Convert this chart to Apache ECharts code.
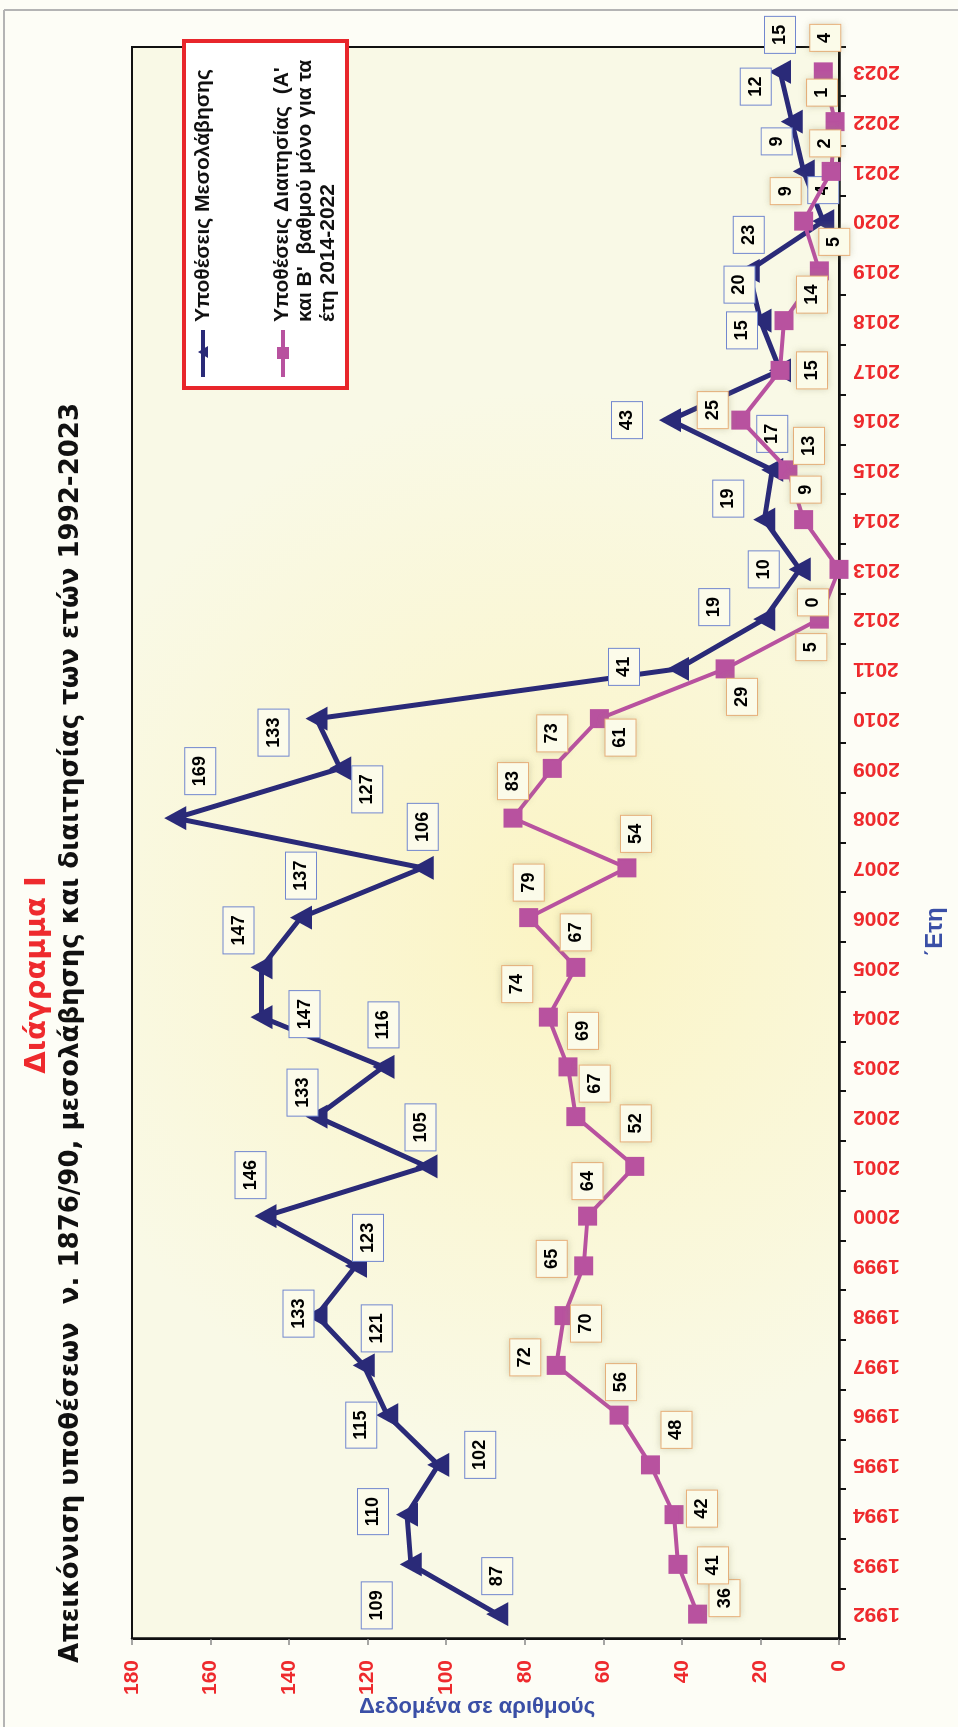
<!DOCTYPE html>
<html lang="el">
<head>
<meta charset="utf-8">
<title>Διάγραμμα Ι</title>
<script src="https://cdn.jsdelivr.net/npm/echarts@6/dist/echarts.min.js"></script>
<style>
  html, body { margin: 0; padding: 0; width: 958px; height: 1727px; overflow: hidden; background: #fdfdf6; }
  /* the chart is laid out landscape and turned a quarter turn to fit the portrait page */
  #chart { position: absolute; left: 0; top: 0; width: 1727px; height: 958px;
           transform-origin: 0 0; transform: translate(0, 1727px) rotate(-90deg); }
</style>
</head>
<body>
<div id="chart"></div>
<script>
// Years on the category axis
const years = ['1992', '1993', '1994', '1995', '1996', '1997', '1998', '1999', '2000', '2001',
  '2002', '2003', '2004', '2005', '2006', '2007', '2008', '2009', '2010', '2011',
  '2012', '2013', '2014', '2015', '2016', '2017', '2018', '2019', '2020', '2021',
  '2022', '2023'];

// Mediation cases per year
const mediationCases = [87, 109, 110, 102, 115, 121, 133, 123, 146, 105,
  133, 116, 147, 147, 137, 106, 169, 127, 133, 41,
  19, 10, 19, 17, 43, 15, 20, 23, 4, 9,
  12, 15];

// Arbitration cases per year
const arbitrationCases = [36, 41, 42, 48, 56, 72, 70, 65, 64, 52,
  67, 69, 74, 67, 79, 54, 83, 73, 61, 29,
  5, 0, 9, 13, 25, 15, 14, 5, 9, 2,
  1, 4];

// Value-axis range and step
const valueMin = 0;
const valueMax = 180;
const valueStep = 20;

// Where each value box sits relative to its marker (pixels, landscape layout)
const mediationLabelOffsets = [
  [38, 0], [-41, -34], [3, -34], [10, 42], [-10, -26], [37, 13], [2, -18], [28, 12],
  [41, -15], [39, -6], [24, -14], [42, 0], [3, 43], [37, -23], [42, 0], [41, 0],
  [47, 25], [-21, 27], [-14, -43], [2, -54], [12, -50], [0, -36], [21, -36], [36, 0],
  [0, -43], [40, -38], [36, -21], [36, 0], [31, 0], [30, -27], [35, -36], [37, 0]
];
const arbitrationLabelOffsets = [
  [16, 27], [-1, 35], [6, 28], [35, 26], [33, 2], [8, -31], [-8, 22], [7, -32],
  [35, 0], [43, 1], [33, 19], [36, 15], [33, -31], [35, 0], [35, 0], [34, 9],
  [37, 0], [35, 0], [-19, 21], [-28, 17], [-28, -8], [-33, -26], [30, 2], [24, 21],
  [10, -28], [0, 32], [26, 28], [29, 15], [30, -18], [28, -6], [29, -13], [34, 2]
];

const FONT = "'Liberation Sans', Arial, sans-serif";
const HEAD_FONT = "'DejaVu Sans', Verdana, sans-serif";
const NAVY = '#2a2a78';
const PURPLE = '#b8529f';
const RED = '#ee2a2d';
const BLUE = '#3a4fa6';

const chart = echarts.init(document.getElementById('chart'), null, { renderer: 'canvas' });

const labelBase = {
  show: true,
  position: 'inside',
  color: '#000',
  fontFamily: FONT,
  fontWeight: 'bold',
  fontSize: 18,
  lineHeight: 18,
  padding: [6, 8]
};

function legendTriangle(cx, cy, w, h, color) {
  return {
    type: 'polygon',
    shape: { points: [[cx, cy - h / 2], [cx + w / 2, cy + h / 2], [cx - w / 2, cy + h / 2]] },
    style: { fill: color }
  };
}

const option = {
  animation: false,
  backgroundColor: '#fdfdf6',
  grid: {
    left: 88, right: 47, top: 132, bottom: 119,
    show: true,
    borderColor: '#111',
    borderWidth: 2,
    backgroundColor: {
      type: 'radial', x: 0.45, y: 0.6, r: 0.75,
      colorStops: [
        { offset: 0, color: '#fbf4c4' },
        { offset: 1, color: '#f9f9e6' }
      ]
    }
  },
  xAxis: {
    type: 'category',
    data: years,
    boundaryGap: true,
    axisLine: { show: true, lineStyle: { color: '#111', width: 2.5 } },
    axisTick: { show: true, length: 7, lineStyle: { color: '#111', width: 2 } },
    axisLabel: {
      interval: 0, rotate: 90, margin: 14,
      color: RED, fontFamily: FONT, fontWeight: 'bold', fontSize: 21
    },
    splitLine: { show: false }
  },
  yAxis: {
    type: 'value',
    min: valueMin, max: valueMax, interval: valueStep,
    axisLine: { show: true, lineStyle: { color: '#111', width: 2.5 } },
    axisTick: { show: true, length: 6, lineStyle: { color: '#888', width: 1.5 } },
    axisLabel: { margin: 21, color: RED, fontFamily: FONT, fontWeight: 'bold', fontSize: 21 },
    splitLine: { show: false }
  },
  series: [
    {
      name: 'Υποθέσεις Μεσολάβησης',
      type: 'line',
      data: mediationCases.map((v, i) => ({ value: v, label: { offset: mediationLabelOffsets[i] } })),
      symbol: 'triangle',
      symbolSize: [24, 22],
      showAllSymbol: true,
      lineStyle: { color: NAVY, width: 5 },
      itemStyle: { color: NAVY },
      label: Object.assign({}, labelBase, {
        backgroundColor: '#fcfbea', borderColor: '#7287cf', borderWidth: 1
      }),
      z: 2
    },
    {
      name: 'Υποθέσεις Διαιτησίας',
      type: 'line',
      data: arbitrationCases.map((v, i) => ({ value: v, label: { offset: arbitrationLabelOffsets[i] } })),
      symbol: 'rect',
      symbolSize: 19,
      showAllSymbol: true,
      lineStyle: { color: PURPLE, width: 4 },
      itemStyle: { color: PURPLE },
      label: Object.assign({}, labelBase, {
        backgroundColor: '#fbfbe9', borderColor: '#f0b27c', borderWidth: 1,
        shadowColor: 'rgba(150, 150, 110, 0.35)', shadowBlur: 7
      }),
      z: 3
    }
  ],
  graphic: [
    // outer frame (left and top edges of the page)
    { type: 'line', shape: { x1: 0, y1: 4, x2: 1717, y2: 4 }, style: { stroke: '#b4b4b4', lineWidth: 2 }, z: 10 },
    { type: 'line', shape: { x1: 1717, y1: 4, x2: 1717, y2: 958 }, style: { stroke: '#b4b4b4', lineWidth: 2 }, z: 10 },
    // headings
    {
      type: 'text', x: 752, y: 37, z: 10,
      style: { text: 'Διάγραμμα Ι', font: 'bold 29px ' + HEAD_FONT, fill: RED, align: 'center', verticalAlign: 'middle' }
    },
    {
      type: 'text', x: 1324, y: 71, z: 10,
      style: {
        text: 'Απεικόνιση υποθέσεων  ν. 1876/90, μεσολάβησης και διαιτησίας των ετών 1992-2023',
        font: 'bold 26px ' + HEAD_FONT, fill: '#111', align: 'right', verticalAlign: 'middle'
      }
    },
    // axis names
    {
      type: 'text', x: 20, y: 477, rotation: -Math.PI / 2, z: 10,
      style: { text: 'Δεδομένα σε αριθμούς', font: 'bold 22px ' + FONT, fill: BLUE, align: 'center', verticalAlign: 'middle' }
    },
    {
      type: 'text', x: 795, y: 935, z: 10,
      style: { text: '΄Ετη', font: 'bold 24px ' + FONT, fill: BLUE, align: 'center', verticalAlign: 'middle' }
    },
    // legend
    {
      type: 'group', z: 20,
      children: [
        { type: 'rect', shape: { x: 1339, y: 184, width: 347, height: 163 },
          style: { fill: '#ffffff', stroke: '#e8262b', lineWidth: 4 } },
        { type: 'line', shape: { x1: 1350, y1: 203, x2: 1397, y2: 203 }, style: { stroke: NAVY, lineWidth: 4 } },
        legendTriangle(1375, 203, 12, 10, NAVY),
        { type: 'text', x: 1405, y: 203,
          style: { text: 'Υποθέσεις Μεσολάβησης', font: 'bold 21px ' + FONT, fill: '#111', align: 'left', verticalAlign: 'middle' } },
        { type: 'line', shape: { x1: 1350, y1: 283, x2: 1397, y2: 283 }, style: { stroke: PURPLE, lineWidth: 4 } },
        { type: 'rect', shape: { x: 1368, y: 277, width: 12, height: 12 }, style: { fill: PURPLE } },
        { type: 'text', x: 1405, y: 271,
          style: {
            text: "Υποθέσεις Διαιτησίας  (Α'\nκαι Β'  βαθμού μόνο για τα\nέτη 2014-2022",
            font: 'bold 21px ' + FONT, lineHeight: 23, fill: '#111', align: 'left', verticalAlign: 'top'
          } }
      ]
    }
  ]
};

chart.setOption(option);
</script>
</body>
</html>
